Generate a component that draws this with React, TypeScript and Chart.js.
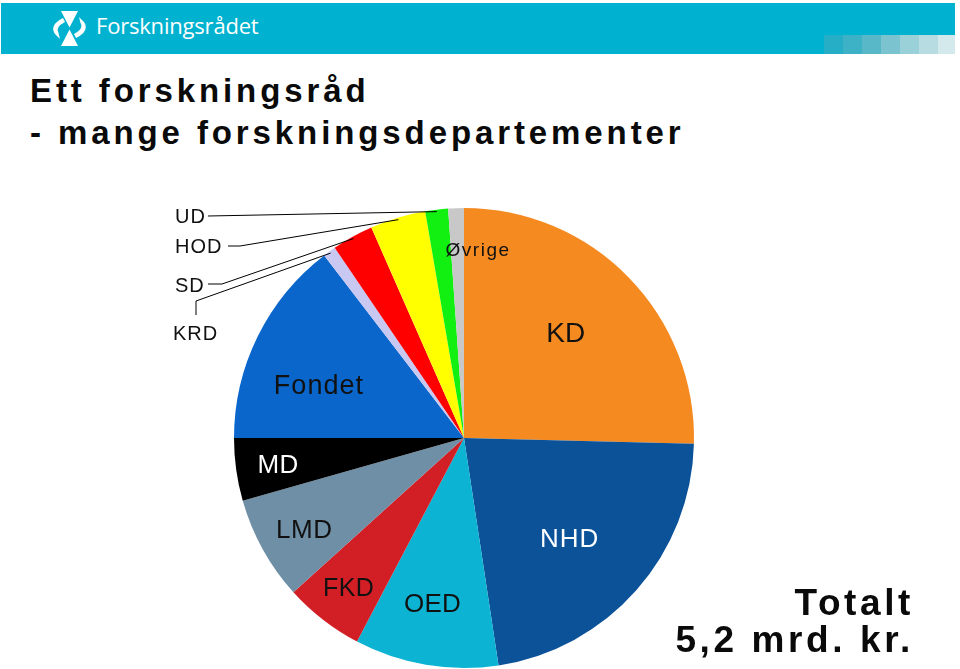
import React, { useEffect, useRef } from 'react';
import { Chart, registerables } from 'chart.js';

Chart.register(...registerables);

// ---- data ----
const categories = ['KD', 'NHD', 'OED', 'FKD', 'LMD', 'MD', 'Fondet', 'KRD', 'SD', 'HOD', 'UD', 'Øvrige'];
const shares = [25.4, 22.2, 10.1, 5.6, 7.3, 4.4, 14.6, 0.9, 2.9, 3.9, 1.6, 1.1];
const sliceColors = ['#F58A21', '#0B5299', '#0CB3D3', '#D21E25', '#6F8FA6', '#000000', '#0B66CC', '#C8C8F2', '#FF0000', '#FFFF00', '#11F011', '#C8C8C8'];
const titleLines = ['Ett forskningsråd', '- mange forskningsdepartementer'];
const totalLines = ['Totalt', '5,2 mrd. kr.'];
const brandName = 'Forskningsrådet';

// ---- label layout (angle offset in degrees, radius fraction) ----
type InLabel = { dA: number; r: number; color: string; size: number; spacing: number };
const insideLabels: Record<string, InLabel> = {
  KD: { dA: -1.9, r: 0.639, color: '#111', size: 28, spacing: 0 },
  NHD: { dA: 2, r: 0.629, color: '#fff', size: 26, spacing: 1 },
  OED: { dA: 1.3, r: 0.73, color: '#111', size: 26, spacing: 0.3 },
  FKD: { dA: 0, r: 0.82, color: '#111', size: 25, spacing: 0.3 },
  LMD: { dA: -0.6, r: 0.8, color: '#111', size: 26, spacing: 0.5 },
  MD: { dA: 0, r: 0.817, color: '#fff', size: 26, spacing: 0.5 },
  Fondet: { dA: -6.2, r: 0.674, color: '#111', size: 27, spacing: 1 },
  'Øvrige': { dA: 6, r: 0.824, color: '#111', size: 19, spacing: 1.5 },
};

type OutLabel = { tx: number; ty: number; path: [number, number][] };
const outsideLabels: Record<string, OutLabel> = {
  UD: { tx: 175, ty: 216, path: [[208, 216]] },
  HOD: { tx: 175, ty: 245.5, path: [[240, 246], [228, 246]] },
  SD: { tx: 175, ty: 285, path: [[222, 284], [208, 284]] },
  KRD: { tx: 173, ty: 333, path: [[196, 301], [196, 315]] },
};

const FONT = '"Liberation Sans", Arial, sans-serif';

const labelPlugin = {
  id: 'sliceLabels',
  afterDatasetsDraw(chart: any) {
    const ctx: CanvasRenderingContext2D = chart.ctx;
    const meta = chart.getDatasetMeta(0);
    meta.data.forEach((arc: any, i: number) => {
      const p = arc.getProps(['x', 'y', 'startAngle', 'endAngle', 'outerRadius'], true);
      const name = categories[i];
      const mid = (p.startAngle + p.endAngle) / 2;
      const inside = insideLabels[name];
      if (inside) {
        const a = mid + (inside.dA * Math.PI) / 180;
        const r = p.outerRadius * inside.r;
        const x = p.x + Math.cos(a) * r;
        const y = p.y + Math.sin(a) * r;
        ctx.save();
        ctx.font = `${inside.size}px ${FONT}`;
        (ctx as any).letterSpacing = `${inside.spacing}px`;
        ctx.fillStyle = inside.color;
        ctx.textAlign = 'center';
        ctx.textBaseline = 'alphabetic';
        ctx.fillText(name, x + inside.spacing / 2, y + 0.358 * inside.size);
        ctx.restore();
      }
      const out = outsideLabels[name];
      if (out) {
        const r = p.outerRadius - 2;
        ctx.save();
        ctx.strokeStyle = '#000';
        ctx.lineWidth = 1;
        ctx.beginPath();
        ctx.moveTo(p.x + Math.cos(mid) * r, p.y + Math.sin(mid) * r);
        out.path.forEach(([px, py]) => ctx.lineTo(px, py));
        ctx.stroke();
        ctx.font = `20px ${FONT}`;
        (ctx as any).letterSpacing = '1px';
        ctx.fillStyle = '#111';
        ctx.textAlign = 'left';
        ctx.textBaseline = 'alphabetic';
        ctx.fillText(name, out.tx, out.ty + 0.358 * 20);
        ctx.restore();
      }
    });
  },
};

const BAND = '#00B2CF';
const fadeSquares = ['#25AEC5', '#3DB1C5', '#58B8C8', '#7BC4CF', '#9AD0D8', '#B7DDE2', '#D3E9EC'];

function Logo() {
  return (
    <svg width={40} height={42} viewBox="48 8 40 42" style={{ position: 'absolute', left: 48, top: 8 }}>
      <polygon points="61,11 78,11 69.5,27.5" fill="#fff" />
      <polygon points="61,46 78,46 69.5,29.5" fill="#fff" />
      <path d="M63,18 Q49,25 55,34 L60,39 L58.5,33 Q55,27 65,22 Z" fill="#fff" />
      <path d="M76,38 Q90,31 84,22 L79,17 L80.5,23 Q84,29 74,34 Z" fill="#fff" />
    </svg>
  );
}

export default function App() {
  const canvasRef = useRef<HTMLCanvasElement | null>(null);

  useEffect(() => {
    if (!canvasRef.current) return;
    const chart = new Chart(canvasRef.current, {
      type: 'pie',
      data: {
        labels: categories,
        datasets: [
          {
            data: shares,
            backgroundColor: sliceColors,
            borderWidth: 0,
          },
        ],
      },
      options: {
        responsive: false,
        maintainAspectRatio: false,
        animation: false,
        layout: { padding: { left: 234, right: 266, top: 208, bottom: 1 } },
        plugins: {
          legend: { display: false },
          tooltip: { enabled: false },
        },
      },
      plugins: [labelPlugin],
    });
    return () => chart.destroy();
  }, []);

  return (
    <div
      style={{
        position: 'absolute',
        left: 0,
        top: 0,
        width: 960,
        height: 669,
        background: '#fff',
        overflow: 'hidden',
        fontFamily: FONT,
      }}
    >
      <div style={{ position: 'absolute', left: 1, top: 3, width: 954, height: 32, background: BAND }} />
      <div style={{ position: 'absolute', left: 1, top: 35, width: 823, height: 19, background: BAND }} />
      {fadeSquares.map((c, i) => (
        <div
          key={i}
          style={{ position: 'absolute', left: 824 + i * 19, top: 35, width: i === 6 ? 17 : 19, height: 19, background: c }}
        />
      ))}
      <Logo />
      <div
        style={{
          position: 'absolute',
          left: 96,
          top: 10,
          fontFamily: '"Open Sans", sans-serif',
          fontSize: 22,
          lineHeight: '30px',
          color: '#fff',
          whiteSpace: 'nowrap',
          letterSpacing: '-0.2px',
        }}
      >
        {brandName}
      </div>
      <div
        style={{
          position: 'absolute',
          left: 30,
          top: 70,
          fontSize: 33,
          fontWeight: 'bold',
          lineHeight: '42px',
          letterSpacing: '3.9px',
          color: '#0a0a0a',
          whiteSpace: 'nowrap',
        }}
      >
        {titleLines.map((t, i) => (
          <div key={i}>{t}</div>
        ))}
      </div>
      <canvas
        ref={canvasRef}
        width={960}
        height={669}
        style={{ position: 'absolute', left: 0, top: 0, width: 960, height: 669 }}
      />
      <div
        style={{
          position: 'absolute',
          right: 46,
          top: 584,
          fontSize: 37,
          fontWeight: 'bold',
          lineHeight: '37px',
          letterSpacing: '3.6px',
          color: '#0a0a0a',
          textAlign: 'right',
          whiteSpace: 'nowrap',
        }}
      >
        {totalLines.map((t, i) => (
          <div key={i}>{t}</div>
        ))}
      </div>
    </div>
  );
}
